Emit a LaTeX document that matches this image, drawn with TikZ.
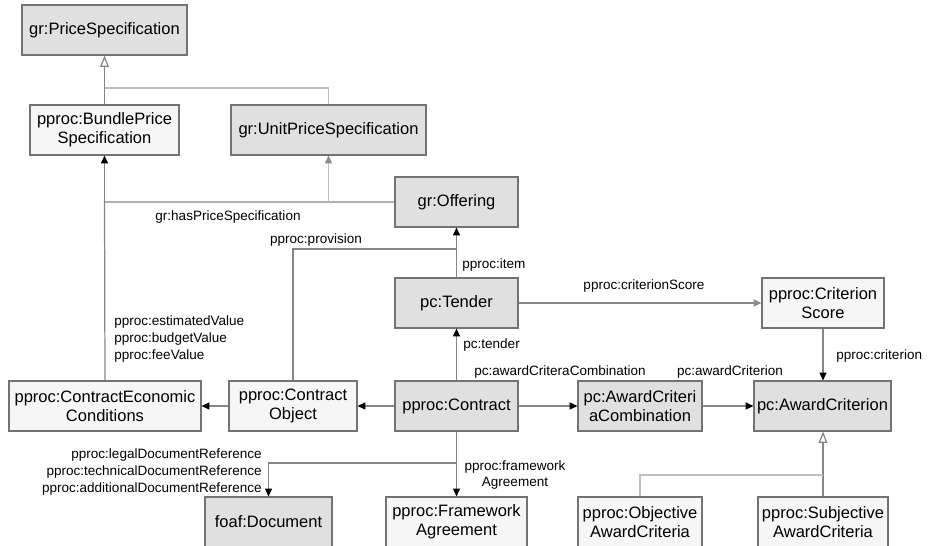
\documentclass[tikz,border=0pt]{standalone}
\usepackage{fontspec}
\setmainfont{Liberation Sans}
\usetikzlibrary{arrows.meta}

\begin{document}
\begin{tikzpicture}[x=0.02cm,y=-0.02cm,
    cls/.style={draw=gray!90!black, line width=0.6pt, minimum height=1cm, align=center,
                inner sep=1pt, font=\fontsize{9.4}{10.8}\selectfont},
    dark/.style={cls, fill=gray!24},
    light/.style={cls, fill=gray!7},
    rel/.style={draw=gray!95, line width=0.7pt},
    faint/.style={draw=gray!50, line width=0.7pt},
    to/.style={-{Triangle[length=4.5pt,width=4pt,color=black]}},
    tofaint/.style={-{Triangle[length=4.5pt,width=4pt,color=gray!90]}},
    isa/.style={-{Triangle[open,length=6.5pt,width=5pt,fill=white]}},
    lbl/.style={font=\fontsize{7.7}{9.4}\selectfont, inner sep=0pt}]

    \useasboundingbox (0,0) rectangle (946,546);
    \clip (0,0) rectangle (946,546);

    % classes
    \node[dark,  minimum width=3.30cm] (price)      at (104.5, 30)  {gr:PriceSpecification};
    \node[light, minimum width=2.98cm] (bundle)     at (104.5,130)  {pproc:BundlePrice\\Specification};
    \node[dark,  minimum width=3.90cm] (unitprice)  at (328.5,130)  {gr:UnitPriceSpecification};
    \node[dark,  minimum width=2.46cm] (offering)   at (456.5,202)  {gr:Offering};
    \node[dark,  minimum width=2.46cm] (tender)     at (456.5,303)  {pc:Tender};
    \node[light, minimum width=2.44cm] (critscore)  at (823,303)    {pproc:Criterion\\Score};
    \node[light, minimum width=3.84cm] (econ)       at (105,406)    {pproc:ContractEconomic\\Conditions};
    \node[light, minimum width=2.56cm] (object)     at (293,406)    {pproc:Contract\\Object};
    \node[dark,  minimum width=2.46cm] (contract)   at (456.5,406)  {pproc:Contract};
    \node[dark,  minimum width=2.48cm] (combi)      at (640,406)    {pc:AwardCriteri\\aCombination};
    \node[dark,  minimum width=2.74cm] (award)      at (822.5,406)  {pc:AwardCriterion};
    \node[dark,  minimum width=2.54cm] (document)   at (268.5,522)  {foaf:Document};
    \node[light, minimum width=2.82cm] (framework)  at (456.5,522)  {pproc:Framework\\Agreement};
    \node[light, minimum width=2.48cm] (objective)  at (640,522)    {pproc:Objective\\AwardCriteria};
    \node[light, minimum width=2.60cm] (subjective) at (823,522)    {pproc:Subjective\\AwardCriteria};

    % junctions
    \coordinate (pricejoin) at (104.5,88);
    \coordinate (hasprice)  at (104.5,202);
    \coordinate (itemjoin)  at (456.5,249);
    \coordinate (docjoin)   at (456.5,463);
    \coordinate (awardjoin) at (823,475);

    % subclasses
    \draw[rel,isa] (bundle) -- (price);
    \draw[faint] (unitprice.north) |- (pricejoin);
    \draw[rel,isa] (subjective) -- (award.south -| subjective);
    \draw[faint] (objective.north) |- (awardjoin);

    % gr:hasPriceSpecification
    \draw[rel] (offering.west) -- (hasprice) -- (econ.north);
    \draw[rel,to] (hasprice) -- (bundle.south);
    \draw[faint,tofaint] (hasprice -| unitprice) -- (unitprice.south);

    % properties
    \draw[rel] (object.north) |- (itemjoin);
    \draw[rel,to] (tender) -- (offering);
    \draw[rel,tofaint] (tender) -- (critscore);
    \draw[rel,to] (contract) -- (tender);
    \draw[rel,to] (contract) -- (object);
    \draw[rel,to] (object) -- (econ);
    \draw[rel,to] (contract) -- (combi);
    \draw[rel,to] (combi) -- (award);
    \draw[rel,to] (critscore.south) -- (award.north -| critscore);
    \draw[rel,to] (contract) -- (framework);
    \draw[rel,to] (docjoin) -| (document.north);

    % labels
    \node[lbl] (l1) at (228,217) {gr:hasPriceSpecification};
    \node[lbl] (l2) at (316,240) {pproc:provision};
    \node[lbl,anchor=west] (l3) at (462,265) {pproc:item};
    \node[lbl] (l4) at (644,286) {pproc:criterionScore};
    \node[lbl,anchor=west,align=left] (l5) at (114,339) {pproc:estimatedValue\\pproc:budgetValue\\pproc:feeValue};
    \node[lbl,anchor=west] (l6) at (463,345) {pc:tender};
    \node[lbl] (l7) at (560,372) {pc:awardCriteraCombination};
    \node[lbl] (l8) at (730,372) {pc:awardCriterion};
    \node[lbl,anchor=west] (l9) at (836,356) {pproc:criterion};
    \node[lbl,align=center] (l10) at (515,475) {pproc:framework\\Agreement};
    \node[lbl,anchor=east,align=right] (l11) at (262,472) {pproc:legalDocumentReference\\pproc:technicalDocumentReference\\pproc:additionalDocumentReference};

\end{tikzpicture}
\end{document}
